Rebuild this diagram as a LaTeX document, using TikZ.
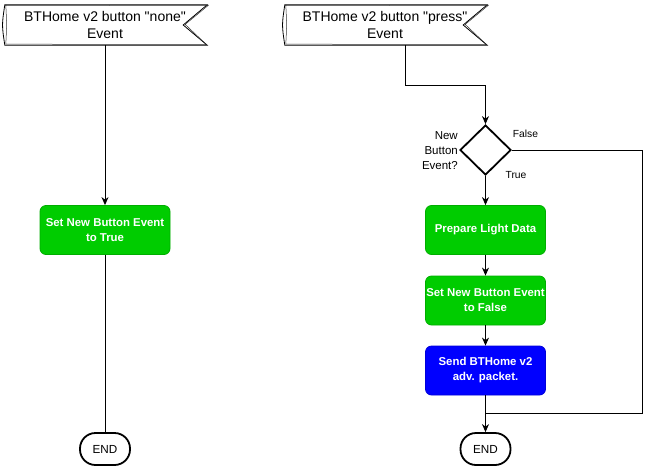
\documentclass[tikz,border=0pt]{standalone}
\usepackage{fontspec}
\setmainfont{Liberation Sans}
\usetikzlibrary{shapes.geometric,arrows.meta}
\definecolor{boxgreen}{RGB}{0,204,0}
\definecolor{boxblue}{RGB}{0,0,255}
\begin{document}
\begin{tikzpicture}[x=1pt,y=-1pt,
  conn/.style={line width=1pt,draw=black},
  arr/.style={conn,-{Stealth[length=8pt,width=7pt,inset=2.5pt]}},
  bannertext/.style={draw=none,minimum width=202pt,minimum height=40pt,inner sep=0pt,align=center,font=\fontsize{14}{17}\selectfont},
  actbox/.style={rectangle,rounded corners=6pt,minimum height=49pt,inner sep=0pt,align=center,text=white,font=\fontsize{11.4}{15}\selectfont\bfseries},
  greenbox/.style={actbox,fill=boxgreen,draw=boxgreen!85!black,line width=0.8pt},
  bluebox/.style={actbox,fill=boxblue,draw=boxblue!85!black,line width=0.8pt},
  endnode/.style={rectangle,rounded corners=15.5pt,draw=black,line width=1.8pt,minimum width=50pt,minimum height=32pt,inner sep=0pt,font=\fontsize{11.7}{14}\selectfont},
  decision/.style={diamond,draw=black,line width=1.8pt,minimum width=51pt,minimum height=50pt,inner sep=0pt},
  lbl/.style={font=\fontsize{11.5}{15}\selectfont,align=right,inner sep=0pt},
  small/.style={font=\fontsize{10.3}{12}\selectfont,inner sep=0pt}
]
\useasboundingbox (0,0) rectangle (659,472);
\fill[white] (0,0) rectangle (659,472);

% banners
\node[bannertext] (bn1) at (106,25) {};
\node[bannertext] (bn2) at (386,25) {};
\foreach \b in {bn1,bn2}{
  \draw[line width=0.8pt] (\b.north west) -- (\b.north east) -- ([xshift=-24pt]\b.east) -- (\b.south east) -- (\b.south west) .. controls ([xshift=-3pt]\b.west) .. (\b.north west) -- cycle;
  \draw[line width=0.5pt,black!80] ([yshift=-0.8pt]\b.north west) -- ([xshift=1pt,yshift=-0.6pt]\b.north east) -- ([xshift=-22pt,yshift=0.6pt]\b.east) -- ([xshift=-1pt,yshift=0.8pt]\b.south east) -- ([xshift=1pt,yshift=1pt]\b.south west) .. controls ([xshift=2pt]\b.west) .. ([xshift=1pt]\b.north west);
}
\node[font=\fontsize{14}{17}\selectfont,align=center,inner sep=0pt] (t1) at (105,25) {BTHome v2 button \textquotedbl none\textquotedbl\\Event};
\node[font=\fontsize{14}{17}\selectfont,align=center,inner sep=0pt] (t2) at (385,25) {BTHome v2 button \textquotedbl press\textquotedbl\\Event};

% left column
\node[greenbox,minimum width=130pt] (g1) at (105,230) {Set New Button Event\\to True};
\node[endnode] (e1) at (105,449) {END};
\draw[arr] (bn1.south -| g1.north) -- (g1.north);
\draw[conn] (g1.south) -- (e1.north);

% right column
\node[decision] (dia) at (485.5,150) {};
\node[greenbox,minimum width=120pt] (p1) at (485.5,230) {Prepare Light Data};
\node[greenbox,minimum width=120pt] (p2) at (485.5,300.5) {Set New Button Event\\to False};
\node[bluebox,minimum width=120pt] (p3) at (485.5,370.5) {Send BTHome v2\\adv. packet.};
\node[endnode] (e2) at (485.5,449) {END};

\node[lbl,anchor=east] (q) at (458,150.5) {New\\Button\\Event?};
\node[small] (fl) at (525.5,134) {False};
\node[small] (tl) at (516,175.5) {True};

\coordinate (s2) at (405,45);
\coordinate (k1) at (405,85);
\coordinate (k2) at (485.5,85);
\coordinate (r1) at (642,150);
\coordinate (r2) at (642,413);
\coordinate (m) at (485.5,413);

\draw[arr] (s2) -- (k1) -- (k2) -- (dia.north);
\draw[arr] (dia.south) -- (p1.north);
\draw[arr] (p1.south) -- (p2.north);
\draw[arr] (p2.south) -- (p3.north);
\draw[arr] (p3.south) -- (e2.north);
\draw[conn] (dia.east) -- (r1) -- (r2) -- (m);
\end{tikzpicture}
\end{document}
